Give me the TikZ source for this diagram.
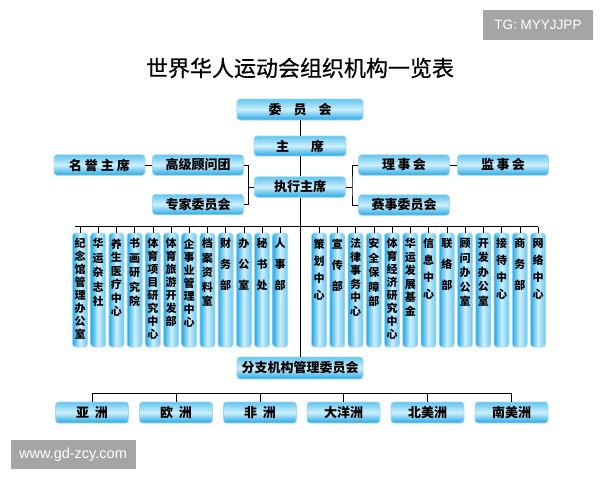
\documentclass[tikz,border=0pt]{standalone}
\usepackage{fontspec}
\setmainfont{Noto Sans CJK SC}
\newfontfamily\titlefont{Noto Sans CJK SC}[FakeBold=0.6]
\newfontfamily\wmfont{Liberation Sans}
\definecolor{boxtop}{HTML}{62C5F1}
\definecolor{boxmid}{HTML}{CFEFFC}
\definecolor{boxbot}{HTML}{22A8E6}
\definecolor{boxedge}{HTML}{A4DBF3}
\definecolor{wmgray}{HTML}{A5A5A5}
% vertical text in a column box: line pitch, characters
\newcommand{\vcol}[2]{\parbox[c][114pt][t]{13pt}{\centering\fontsize{11}{#1}\selectfont\bfseries\vspace*{5.5pt}#2}}

\begin{document}
\begin{tikzpicture}[x=1pt, y=-1pt,
    box/.style={draw=boxedge, line width=0.8pt, rounded corners=3pt,
        top color=boxtop, bottom color=boxbot, middle color=boxmid,
        minimum width=91pt, minimum height=20.5pt, inner sep=0pt,
        font=\fontsize{13}{15}\selectfont\bfseries},
    colbox/.style={draw=boxedge, line width=0.8pt, rounded corners=3pt,
        left color=boxbot, right color=boxtop, middle color=boxmid,
        minimum width=15pt, inner sep=0pt},
    wm/.style={fill=wmgray, text=white, inner sep=0pt, font=\wmfont}]
    \useasboundingbox (0,0) rectangle (600,480);

    \node[wm, minimum width=110pt, minimum height=30pt, font=\wmfont\fontsize{13.5}{15}\selectfont] (tg) at (538,25) {TG: MYYJJPP};
    \node[wm, minimum width=125pt, minimum height=29.5pt, font=\wmfont\fontsize{14.5}{16}\selectfont] (web) at (73,454.5) {www.gd-zcy.com};

    \node[font=\titlefont\fontsize{22}{24}\selectfont] (title) at (300,68) {世界华人运动会组织机构一览表};

    \node[box, minimum width=126pt, minimum height=21pt] (wyh) at (300,109.5) {委\hspace{12pt}员\hspace{12pt}会};
    \node[box, minimum width=92pt, minimum height=20pt] (zx) at (300,146) {主\hspace{22pt}席};
    \node[box] (myzx) at (99.5,165) {名\hspace{3pt}誉\hspace{3pt}主\hspace{3pt}席};
    \node[box] (gjgw) at (198,165) {高级顾问团};
    \node[box] (zxzx) at (300,187) {执行主席};
    \node[box] (zjwy) at (198,204.5) {专家委员会};
    \node[box] (lsh) at (404,165) {理\hspace{2.5pt}事\hspace{2.5pt}会};
    \node[box] (jsh) at (503,165) {监\hspace{2.5pt}事\hspace{2.5pt}会};
    \node[box] (sswy) at (404,205) {赛事委员会};

    \node[colbox] (l1) at (80,290) {\vcol{13}{纪\\念\\馆\\管\\理\\办\\公\\室}};
    \node[colbox] (l2) at (98.2,290) {\vcol{14.5}{华\\运\\杂\\志\\社}};
    \node[colbox] (l3) at (116.4,290) {\vcol{13.5}{养\\生\\医\\疗\\中\\心}};
    \node[colbox] (l4) at (134.6,290) {\vcol{14.5}{书\\画\\研\\究\\院}};
    \node[colbox] (l5) at (152.8,290) {\vcol{13}{体\\育\\项\\目\\研\\究\\中\\心}};
    \node[colbox] (l6) at (171,290) {\vcol{13}{体\\育\\旅\\游\\开\\发\\部}};
    \node[colbox] (l7) at (189.2,290) {\vcol{13}{企\\事\\业\\管\\理\\中\\心}};
    \node[colbox] (l8) at (207.4,290) {\vcol{14.5}{档\\案\\资\\料\\室}};
    \node[colbox] (l9) at (225.6,290) {\vcol{21}{财\\务\\部}};
    \node[colbox] (l10) at (243.8,290) {\vcol{21}{办\\公\\室}};
    \node[colbox] (l11) at (262,290) {\vcol{21}{秘\\书\\处}};
    \node[colbox] (l12) at (280.2,290) {\vcol{21}{人\\事\\部}};

    \node[colbox] (r1) at (319,290) {\vcol{17}{策\\划\\中\\心}};
    \node[colbox] (r2) at (337.25,290) {\vcol{21}{宣\\传\\部}};
    \node[colbox] (r3) at (355.5,290) {\vcol{13.5}{法\\律\\事\\务\\中\\心}};
    \node[colbox] (r4) at (373.75,290) {\vcol{14.5}{安\\全\\保\\障\\部}};
    \node[colbox] (r5) at (392,290) {\vcol{13}{体\\育\\经\\济\\研\\究\\中\\心}};
    \node[colbox] (r6) at (410.25,290) {\vcol{13.5}{华\\运\\发\\展\\基\\金}};
    \node[colbox] (r7) at (428.5,290) {\vcol{17}{信\\息\\中\\心}};
    \node[colbox] (r8) at (446.75,290) {\vcol{21}{联\\络\\部}};
    \node[colbox] (r9) at (465,290) {\vcol{14.5}{顾\\问\\办\\公\\室}};
    \node[colbox] (r10) at (483.25,290) {\vcol{14.5}{开\\发\\办\\公\\室}};
    \node[colbox] (r11) at (501.5,290) {\vcol{17}{接\\待\\中\\心}};
    \node[colbox] (r12) at (519.75,290) {\vcol{21}{商\\务\\部}};
    \node[colbox] (r13) at (538,290) {\vcol{17}{网\\络\\中\\心}};

    \node[box, minimum width=126pt, minimum height=22pt] (fzjg) at (300,368) {分支机构管理委员会};
    \node[box, minimum width=73pt, minimum height=21pt] (yz) at (92,412.5) {亚\hspace{6pt}洲};
    \node[box, minimum width=73pt, minimum height=21pt] (oz) at (176,412.5) {欧\hspace{6pt}洲};
    \node[box, minimum width=73pt, minimum height=21pt] (fz) at (260,412.5) {非\hspace{6pt}洲};
    \node[box, minimum width=73pt, minimum height=21pt] (dyz) at (343.5,412.5) {大洋洲};
    \node[box, minimum width=73pt, minimum height=21pt] (bmz) at (427.5,412.5) {北美洲};
    \node[box, minimum width=73pt, minimum height=21pt] (nmz) at (511.5,412.5) {南美洲};

    % trunk
    \draw (wyh) -- (zx);
    \draw (zx) -- (zxzx);
    \draw (zxzx) -- (fzjg);
    \draw (myzx) -- (gjgw);
    \draw (lsh) -- (jsh);

    \coordinate (lb) at (248.5,187);
    \coordinate (rb) at (352,187);
    \draw (gjgw.east) -| (lb) |- (zjwy.east);
    \draw (zxzx.west) -- (lb);
    \draw (lsh.west) -| (rb) |- (sswy.west);
    \draw (zxzx.east) -- (rb);

    \coordinate (bus) at (300,226.5);
    \draw (75,226.5) -- (r13.north |- bus);
    \foreach \n in {l1,l2,l3,l4,l5,l6,l7,l8,l9,l10,l11,l12,r1,r2,r3,r4,r5,r6,r7,r8,r9,r10,r11,r12,r13}
        \draw (\n.north) -- (\n.north |- bus);

    \coordinate (bus2) at (300,393);
    \draw (yz.north |- bus2) -- (nmz.north |- bus2);
    \foreach \n in {yz,oz,fz,dyz,bmz,nmz}
        \draw (\n.north) -- (\n.north |- bus2);
\end{tikzpicture}
\end{document}
